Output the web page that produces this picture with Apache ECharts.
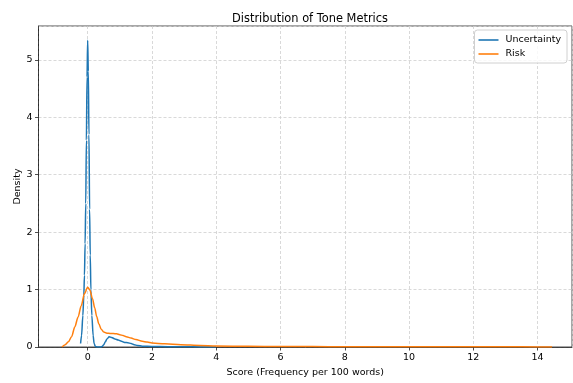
<!DOCTYPE html>
<html>
<head>
<meta charset="utf-8">
<script src="https://cdn.jsdelivr.net/npm/echarts@6/dist/echarts.min.js"></script>
<style>html,body{margin:0;padding:0;background:#fff}#c{width:573px;height:383px}</style>
</head>
<body>
<div id="c"></div>
<script>
var seriesNames = ['Uncertainty', 'Risk'];
var uncX = [-0.22,-0.19,-0.15,-0.12,-0.1,-0.08,-0.06,-0.04,-0.02,0,0.02,0.04,0.06,0.08,0.1,0.13,0.17,0.2,0.24,0.3,0.4,0.45,0.5,0.55,0.6,0.67,0.75,0.85,0.95,1.05,1.15,1.25,1.35,1.45,1.55,1.7,2.0,2.5,3.0,3.5,4.0];
var uncY = [0.06,0.2,0.55,0.9,1.25,1.8,2.5,3.6,4.7,5.34,4.8,3.7,2.4,1.6,1.0,0.55,0.2,0.06,0.01,0.0,0.0,0.01,0.04,0.09,0.14,0.18,0.165,0.14,0.12,0.1,0.08,0.075,0.06,0.04,0.025,0.015,0.01,0.006,0.004,0.002,0.001];
var riskX = [-0.8,-0.7,-0.6,-0.5,-0.4,-0.3,-0.2,-0.1,0,0.07,0.15,0.22,0.28,0.35,0.42,0.5,0.6,0.7,0.8,0.9,1.0,1.1,1.2,1.35,1.5,1.7,1.85,2.0,2.4,2.9,3.5,4.0,5,6,7,8,9,10,11,12,13,14,14.45];
var riskY = [0.0,0.04,0.09,0.18,0.35,0.52,0.72,0.93,1.04,0.99,0.84,0.68,0.53,0.4,0.31,0.26,0.24,0.235,0.235,0.23,0.215,0.2,0.18,0.155,0.13,0.1,0.085,0.07,0.055,0.04,0.028,0.018,0.012,0.008,0.007,0.005,0.005,0.004,0.004,0.003,0.003,0.002,0.0];

function zip(xs, ys){ return xs.map(function(x,i){ return [x, ys[i]]; }); }

var FONT = 'DejaVu Sans';
var chart = echarts.init(document.getElementById('c'), null, {renderer:'canvas'});
chart.setOption({
  animation: false,
  backgroundColor: '#ffffff',
  title: {
    text: 'Distribution of Tone Metrics',
    left: 305, top: 9, textAlign: 'center',
    textStyle: {fontFamily: FONT, fontSize: 11.4, fontWeight: 'normal', color: '#000'}
  },
  legend: {
    orient: 'vertical', right: 6, top: 30,
    data: seriesNames,
    icon: 'rect', itemWidth: 20, itemHeight: 1.6, itemGap: 4,
    padding: [5, 6, 4, 4],
    borderColor: '#d0d0d0', borderWidth: 1, borderRadius: 3,
    backgroundColor: 'rgba(255,255,255,0.8)',
    textStyle: {fontFamily: FONT, fontSize: 9.5, color: '#000', padding: [0,0,0,2]}
  },
  grid: {left: 38.5, right: 1, top: 26, bottom: 36, show: true, borderColor: '#222', borderWidth: 0.8, containLabel: false},
  xAxis: {
    type: 'value', min: -1.53, max: 15.07, splitNumber: 8,
    name: 'Score (Frequency per 100 words)', nameLocation: 'middle', nameGap: 21, nameMoveOverlap: false,
    nameTextStyle: {fontFamily: FONT, fontSize: 9.5, color: '#000'},
    axisLine: {show: true, onZero: false, lineStyle: {color: '#222', width: 0.8}},
    axisTick: {show: true, length: 3.5, lineStyle: {color: '#222', width: 0.8}},
    axisLabel: {fontFamily: FONT, fontSize: 9.5, color: '#000', margin: 6, showMinLabel: false, showMaxLabel: false},
    splitLine: {show: true, lineStyle: {color: '#cfcfcf', width: 0.8, type: [3, 2]}}
  },
  yAxis: {
    type: 'value', min: 0, max: 5.59, interval: 1,
    name: 'Density', nameLocation: 'middle', nameGap: 16, nameMoveOverlap: false,
    nameTextStyle: {fontFamily: FONT, fontSize: 9.5, color: '#000'},
    axisLine: {show: true, onZero: false, lineStyle: {color: '#222', width: 0.8}},
    axisTick: {show: true, length: 3.5, lineStyle: {color: '#222', width: 0.8}},
    axisLabel: {fontFamily: FONT, fontSize: 9.5, color: '#000', margin: 6, showMaxLabel: false},
    splitLine: {show: true, lineStyle: {color: '#cfcfcf', width: 0.8, type: [3, 2]}}
  },
  series: [
    {name: seriesNames[0], type: 'line', data: zip(uncX, uncY), symbol: 'none', smooth: 0.3, smoothMonotone: 'x',
     lineStyle: {color: '#1f77b4', width: 1.5}, itemStyle: {color: '#1f77b4'}, z: 3},
    {name: seriesNames[1], type: 'line', data: zip(riskX, riskY), symbol: 'none', smooth: 0.3, smoothMonotone: 'x',
     lineStyle: {color: '#ff7f0e', width: 1.5}, itemStyle: {color: '#ff7f0e'}, z: 4}
  ]
});
</script>
</body>
</html>
